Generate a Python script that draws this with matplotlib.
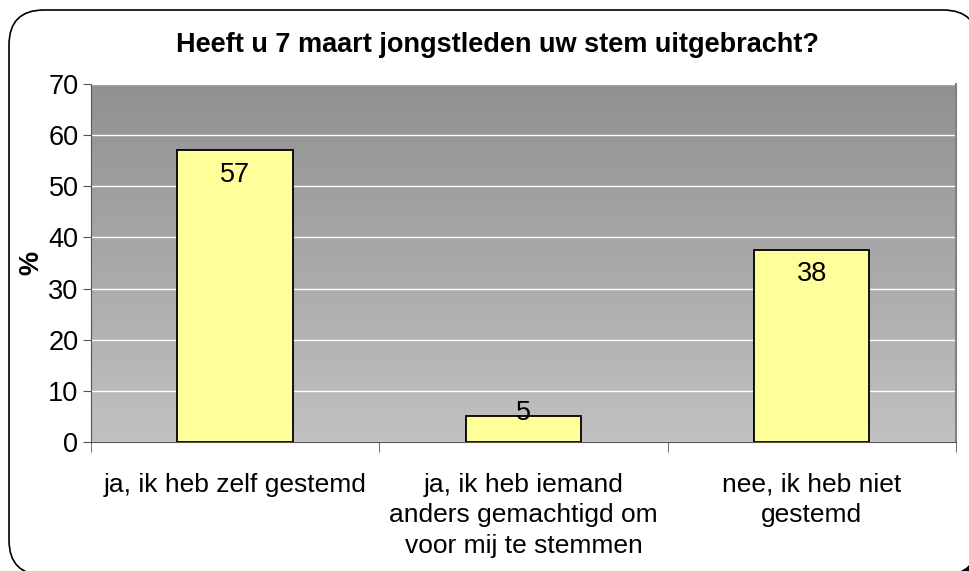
import matplotlib.pyplot as plt
import numpy as np
from matplotlib.patches import FancyBboxPatch
from matplotlib.colors import LinearSegmentedColormap

plt.rcParams['font.family'] = ['Liberation Sans', 'DejaVu Sans']

# data
categories = ["ja, ik heb zelf gestemd",
              "ja, ik heb iemand\nanders gemachtigd om\nvoor mij te stemmen",
              "nee, ik heb niet\ngestemd"]
values = [57, 5, 37.6]
title = "Heeft u 7 maart jongstleden uw stem uitgebracht?"

W, H = 970, 571
fig = plt.figure(figsize=(W / 100, H / 100), dpi=100)

# rounded frame (runs slightly off the right/bottom edge) with a shadow
r = 35 / W
shadow = FancyBboxPatch((14 / W, -9 / H), 969 / W, 565 / H,
                        boxstyle="round,pad=0,rounding_size=%f" % r,
                        transform=fig.transFigure, facecolor="black", edgecolor="none",
                        mutation_aspect=W / H, zorder=-2)
frame = FancyBboxPatch((9 / W, -4 / H), 969 / W, 565 / H,
                       boxstyle="round,pad=0,rounding_size=%f" % r,
                       transform=fig.transFigure, facecolor="white", edgecolor="black",
                       linewidth=1.2, mutation_aspect=W / H, zorder=-1)
fig.patches.extend([shadow, frame])

ax = fig.add_axes([91 / W, 1 - 442 / H, 865 / W, 358 / H])
ax.set_facecolor("none")
ax.set_zorder(1)

x = np.arange(len(categories))

# gradient background: dark gray at top, light gray at bottom
cmap = LinearSegmentedColormap.from_list("bg", ["#C1C1C1", "#919191"])
grad = np.linspace(0, 1, 256).reshape(-1, 1)
ax.imshow(grad, cmap=cmap, origin="lower",
          extent=[-0.5, len(categories) - 0.5, 0, 70], aspect="auto", zorder=0)
ax.set_xlim(-0.5, len(categories) - 0.5)
ax.set_ylim(0, 70)

ax.set_yticks(range(0, 71, 10))
ax.yaxis.grid(True, color="white", linewidth=1.0, zorder=1)
ax.set_axisbelow(True)

ax.bar(x, values, width=0.4, color="#FFFF99", edgecolor="black", linewidth=1.3, zorder=3)

for xi, v in zip(x, values):
    ly = max(v - 4.7, 5.7)
    ax.text(xi, ly, "{:.0f}".format(v), ha="center", va="center", fontsize=19.5, zorder=4)

ax.set_xticks(x)
ax.set_xticklabels(categories, fontsize=19, linespacing=1.36)
ax.tick_params(axis="x", which="major", length=0, pad=22)
ax.set_xticks(np.arange(-0.5, len(categories)), minor=True)
ax.tick_params(axis="x", which="minor", length=7, color="#555555")
ax.tick_params(axis="y", labelsize=19.5, length=6, color="#555555", pad=3)

ax.spines["top"].set_visible(False)
ax.spines["right"].set_color("#808080")
ax.spines["right"].set_linewidth(1.5)
ax.spines["left"].set_color("#555555")
ax.spines["bottom"].set_color("#555555")

fig.text(31 / W, 1 - 263 / H, "%", rotation=90, fontsize=19.5, fontweight="bold",
         ha="center", va="center")
fig.text(498 / W, 1 - 45 / H, title, fontsize=19.5, fontweight="bold", ha="center", va="center")

fig.savefig("out.png", dpi=100)
